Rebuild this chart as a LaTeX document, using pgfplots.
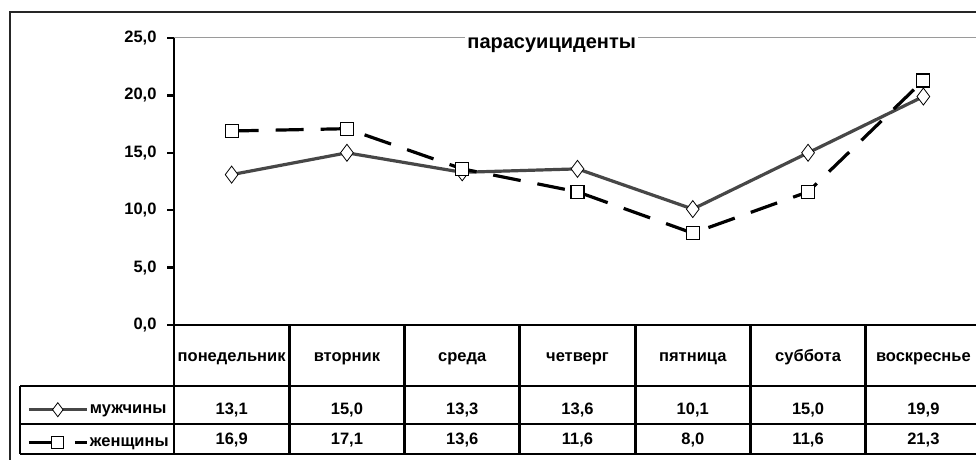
\documentclass[border=0pt]{standalone}
\usepackage{fontspec}
\setmainfont{Liberation Sans}
\usepackage{pgfplots}
\pgfplotsset{compat=1.18}
\usepackage{pgfplotstable}
\definecolor{mengray}{HTML}{474747}
\definecolor{framegray}{HTML}{9A9A9A}
\pgfplotstableread{
x men women
0 13.1 16.9
1 15.0 17.1
2 13.3 13.6
3 13.6 11.6
4 10.1 8.0
5 15.0 11.6
6 19.9 21.3
}\datatable
\begin{document}
\begin{tikzpicture}[x=1pt,y=1pt,font=\fontsize{16.5}{19}\selectfont\bfseries]
\useasboundingbox (0pt,0pt) rectangle (976pt,459pt);
% outer frame
\draw[line width=2.2pt, black!85] (10pt,-20pt) -- (10pt,447pt) -- (1000pt,447pt);
% plot-area top border
\draw[framegray, line width=1pt] (174pt,421pt) -- (1000pt,421pt);
\begin{axis}[
  at={(174pt,134pt)}, anchor=south west,
  scale only axis, width=807pt, height=287pt,
  xmin=-0.5, xmax=6.5, ymin=0, ymax=25,
  clip=false,
  axis x line*=bottom, axis y line*=left,
  axis line style={line width=2.8pt, black, -},
  ytick={0,5,10,15,20,25},
  tick align=outside, major tick length=7pt,
  ytick style={line width=2.5pt, black},
  yticklabel style={/pgf/number format/fixed, /pgf/number format/fixed zerofill,
    /pgf/number format/precision=1, /pgf/number format/use comma,
    /pgf/number format/assume math mode=true, xshift=-7pt,
    font=\fontsize{16.5}{19}\selectfont\bfseries},
  xtick={0,1,2,3,4,5,6},
  xticklabels={понедельник,вторник,среда,четверг,пятница,суббота,воскреснье},
  xtick style={draw=none},
  xticklabel style={anchor=base, yshift=-29pt, font=\fontsize{16.5}{19}\selectfont\bfseries},
  title={парасуициденты},
  title style={at={(rel axis cs:0.468,0.941)}, anchor=base, fill=white,
    text height=16pt, inner sep=2pt, font=\fontsize{20}{22}\selectfont\bfseries},
  legend image code/.code={\draw[mark repeat=2,mark phase=2,#1] plot coordinates {(0pt,0pt) (29pt,0pt) (58pt,0pt)};},
  legend style={at={(rel axis cs:0,0)}, anchor=north west, xshift=-147pt, yshift=-75pt,
    draw=none, fill=none, inner sep=0pt, row sep=14pt,
    nodes={inner sep=1.5pt, text height=12pt, text depth=4pt},
    font=\fontsize{16.5}{19}\selectfont\bfseries},
  legend cell align=left,
]
\addplot[mengray, line width=3.2pt, mark=diamond*, mark size=8.5pt,
  mark options={solid, fill=white, draw=black, line width=0.8pt},
  legend image post style={mark size=7pt}]
  table[x=x, y=men] {\datatable};
\addlegendentry{мужчины}
\addplot[black, line width=3.2pt, dash pattern=on 28pt off 17pt, dash phase=1pt, mark=square*, mark size=6.5pt,
  mark options={solid, fill=white, draw=black, line width=1.2pt},
  legend image post style={dash pattern=on 24pt off 22pt, dash phase=0pt, mark size=6pt}]
  table[x=x, y=women] {\datatable};
\addlegendentry{женщины}
\end{axis}
% data table grid
\begin{scope}[line width=2.8pt, black]
\draw (20pt,73pt) -- (1000pt,73pt);
\draw (20pt,35pt) -- (1000pt,35pt);
\draw (20pt,5pt) -- (1000pt,5pt);
\draw (20pt,73pt) -- (20pt,5pt);
\draw (174pt,134pt) -- (174pt,5pt);
\foreach \k in {1,...,6} {\draw ({174pt+115.286pt*\k},134pt) -- ({174pt+115.286pt*\k},5pt);}
\end{scope}
\foreach \i in {0,...,6} {
  \pgfplotstablegetelem{\i}{men}\of\datatable
  \let\mv\pgfplotsretval
  \pgfplotstablegetelem{\i}{women}\of\datatable
  \let\wv\pgfplotsretval
  \node[anchor=base] at ({174pt+115.286pt*(\i+0.5)},45pt) {\pgfmathprintnumber[fixed,fixed zerofill,precision=1,use comma,assume math mode=true]{\mv}};
  \node[anchor=base] at ({174pt+115.286pt*(\i+0.5)},15pt) {\pgfmathprintnumber[fixed,fixed zerofill,precision=1,use comma,assume math mode=true]{\wv}};
}
\end{tikzpicture}
\end{document}
